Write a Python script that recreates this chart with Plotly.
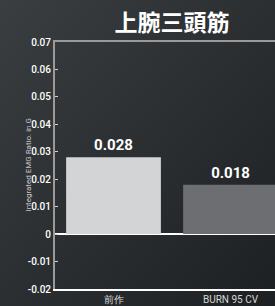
import plotly.graph_objects as go
import urllib.parse

categories = ["前作", "BURN 95 CV"]
values = [0.028, 0.018]
value_labels = ["0.028", "0.018"]
bar_colors = ["#d3d4d6", "#6d6e72"]
y_ticks = [-0.02, -0.01, 0, 0.01, 0.02, 0.03, 0.04, 0.05, 0.06, 0.07]
y_tick_text = ["-0.02", "-0.01", "0", "0.01", "0.02", "0.03", "0.04", "0.05", "0.06", "0.07"]
title_text = "上腕三頭筋"
y_title = "Integrated EMG Ratio. in G"

bg = "#2b2f31"
grad_svg = ('<svg xmlns="http://www.w3.org/2000/svg" width="275" height="306">'
            '<defs><linearGradient id="g" x1="0" y1="0" x2="1" y2="1">'
            '<stop offset="0" stop-color="#3a3e40"/><stop offset="1" stop-color="#1d2022"/>'
            '</linearGradient></defs><rect width="275" height="306" fill="url(#g)"/></svg>')
grad_uri = "data:image/svg+xml;charset=utf-8," + urllib.parse.quote(grad_svg)

fig = go.Figure()
fig.add_trace(go.Bar(
    x=categories, y=values, marker=dict(color=bar_colors, line=dict(width=0)),
    width=0.81, text=value_labels, textposition="outside", cliponaxis=False,
    texttemplate="<b>%{text}</b>",
    textfont=dict(family="Roboto", size=15, color="white"),
))
# invisible trace for top border axis
fig.add_trace(go.Scatter(x=categories, y=values, xaxis="x2", mode="markers",
                         marker=dict(opacity=0), showlegend=False, hoverinfo="skip"))

fig.update_layout(
    width=275, height=306,
    margin=dict(l=55, r=0, t=42, b=17),
    paper_bgcolor=bg, plot_bgcolor="rgba(0,0,0,0)",
    showlegend=False,
    images=[dict(source=grad_uri, xref="paper", yref="paper", x=-55/220, y=1 + 42/247,
                 sizex=275/220, sizey=306/247, sizing="stretch", xanchor="left",
                 yanchor="top", layer="below")],
    title=dict(text=f"<b>{title_text}</b>", x=172/275, xref="container", xanchor="center",
               y=1 - 23/306, yref="container", yanchor="middle",
               font=dict(family="Noto Sans CJK JP", size=23, color="white")),
    xaxis=dict(range=[-0.5, 1.38], showgrid=False, showline=True, linecolor="white",
               linewidth=1.5, ticks="", ticklen=0, automargin=False,
               tickfont=dict(family="Roboto", size=10, color="#d8d8d8"),
               fixedrange=True),
    xaxis2=dict(overlaying="x", side="top", range=[-0.5, 1.38], showline=True,
                linecolor="#9a9a9a", linewidth=2, showticklabels=False, ticks="",
                showgrid=False, automargin=False),
    yaxis=dict(range=[-0.02, 0.07], tickvals=y_ticks, ticktext=y_tick_text,
               showgrid=False, showline=True, linecolor="#9a9a9a", linewidth=2,
               ticks="inside", ticklen=3, tickcolor="#cfcfcf", automargin=False,
               tickfont=dict(family="Roboto", size=10, color="white", weight=500),
               zeroline=True, zerolinecolor="white", zerolinewidth=2),
    annotations=[dict(text=y_title, xref="paper", yref="paper", x=-27/220, y=0.5,
                      textangle=-90, showarrow=False, xanchor="center", yanchor="middle",
                      font=dict(family="Roboto", size=8, color="#c8c8c8"))],
)

fig.write_html("out.html", config={"displayModeBar": False}, post_script=(
    "document.body.style.margin='0';document.body.style.padding='0';"
    "document.body.style.overflow='hidden';document.body.style.background='%s';" % bg))
